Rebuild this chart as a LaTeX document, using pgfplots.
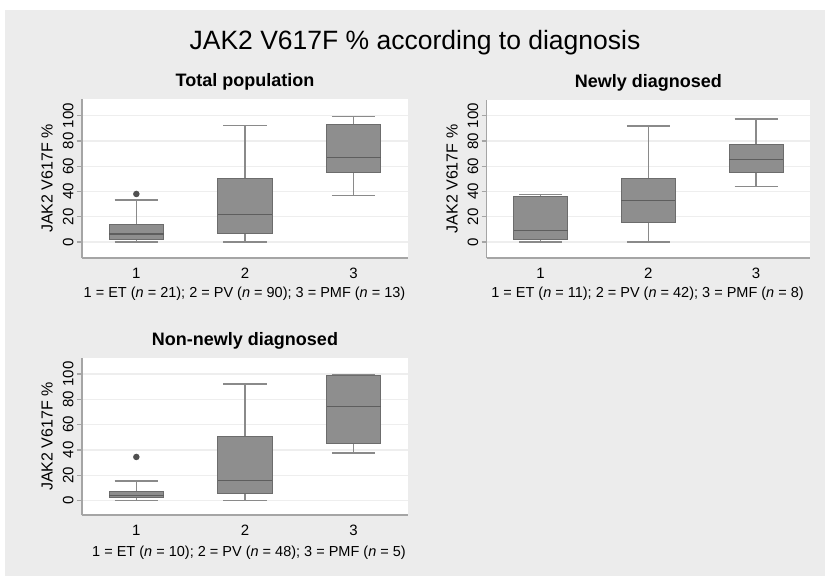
\documentclass[border=0pt]{standalone}
\usepackage{fontspec}
\setmainfont{Liberation Sans}
\usepackage{pgfplots}
\pgfplotsset{compat=1.18}
\usepgfplotslibrary{statistics}
\definecolor{bgc}{HTML}{ECECEC}
\definecolor{boxf}{HTML}{8E8E8E}
\definecolor{boxd}{HTML}{6C6C6C}
\definecolor{medc}{HTML}{5E5E5E}
\definecolor{whisk}{HTML}{8A8A8A}
\definecolor{gridc}{HTML}{EEEEEE}
\definecolor{axc}{HTML}{A5A5A5}
\definecolor{outc}{HTML}{505050}

\pgfplotsset{
  jak/.style={
    scale only axis,
    width=326pt, height=159pt,
    xmin=0.5, xmax=3.5,
    xtick={1,2,3},
    ytick={0,20,40,60,80,100},
    axis lines*=left,
    axis line style={axc, line width=1.5pt},
    axis background/.style={fill=white},
    ymajorgrids,
    major grid style={gridc, line width=1.2pt},
    tick style={axc, line width=1.2pt},
    major tick length=5pt,
    tick align=outside,
    xtick style={draw=none},
    yticklabel style={rotate=90, anchor=south, font=\fontsize{15}{15}\selectfont},
    xticklabel style={anchor=base, yshift=-15.5pt, font=\fontsize{15}{15}\selectfont},
    /pgf/number format/assume math mode=true,
    ylabel={JAK2 V617F \%},
    ylabel style={font=\fontsize{16}{16}\selectfont, at={(axis description cs:-0.107,0.5)}, anchor=center},
    title style={font=\bfseries\fontsize{18}{18}\selectfont, at={(0.5,1)}, anchor=base, yshift=6pt},
    boxplot/draw direction=y,
    boxplot/box extend=0.5,
    boxplot/every box/.style={draw=boxd, fill=boxf, line width=1pt},
    boxplot/every median/.style={draw=medc, line width=1.5pt},
    boxplot/every whisker/.style={draw=whisk, line width=1.6pt},
  },
  bx/.style={draw=whisk, line width=1.6pt, mark=*, mark size=2.4pt, mark options={fill=outc, draw=outc}},
}

\begin{document}
\begin{tikzpicture}[x=1pt,y=1pt]
\fill[white] (0,0) rectangle (830,579);
\fill[bgc] (5,3) rectangle (825,569);
\node[font=\fontsize{26.5}{26}\selectfont, anchor=base] at (415,529) {JAK2 V617F \% according to diagnosis};

% Panel 1
\begin{axis}[jak, at={(82pt,321pt)}, anchor=south west, ymin=-12.7, ymax=113.2, title={Total population}]
\addplot[bx, boxplot prepared={lower whisker=0, lower quartile=1.6, median=6.3, upper quartile=14, upper whisker=33.2, draw position=1}] coordinates {(1,38)};
\addplot[bx, boxplot prepared={lower whisker=0, lower quartile=6.9, median=21.9, upper quartile=50.4, upper whisker=92.1, draw position=2}] coordinates {};
\addplot[bx, boxplot prepared={lower whisker=36.7, lower quartile=55.2, median=66.7, upper quartile=93.2, upper whisker=99.2, draw position=3}] coordinates {};
\end{axis}

% Panel 2
\begin{axis}[jak, at={(486.7pt,321pt)}, anchor=south west, width=323.3pt, height=158pt, ymin=-12.7, ymax=112.5, title={Newly diagnosed}]
\addplot[bx, boxplot prepared={lower whisker=0, lower quartile=1.6, median=9, upper quartile=36.4, upper whisker=37.7, draw position=1}] coordinates {};
\addplot[bx, boxplot prepared={lower whisker=0, lower quartile=15.6, median=32.7, upper quartile=50.4, upper whisker=92.1, draw position=2}] coordinates {};
\addplot[bx, boxplot prepared={lower whisker=43.8, lower quartile=54.9, median=65.5, upper quartile=77.3, upper whisker=97.4, draw position=3}] coordinates {};
\end{axis}

% Panel 3
\begin{axis}[jak, at={(82pt,64pt)}, anchor=south west, height=157pt, ymin=-11.3, ymax=112.6, title={Non-newly diagnosed}]
\addplot[bx, boxplot prepared={lower whisker=0, lower quartile=2.4, median=4.2, upper quartile=7.6, upper whisker=15.3, draw position=1}] coordinates {(1,34.5)};
\addplot[bx, boxplot prepared={lower whisker=0, lower quartile=5.8, median=16.1, upper quartile=50.5, upper whisker=92.1, draw position=2}] coordinates {};
\addplot[bx, boxplot prepared={lower whisker=37.5, lower quartile=44.8, median=74.2, upper quartile=98.4, upper whisker=99.2, draw position=3}] coordinates {};
\end{axis}

\node[font=\fontsize{14.5}{15}\selectfont, anchor=base] at (244.5,281) {1 = ET (\textit{n} = 21); 2 = PV (\textit{n} = 90); 3 = PMF (\textit{n} = 13)};
\node[font=\fontsize{14.5}{15}\selectfont, anchor=base] at (647.5,281) {1 = ET (\textit{n} = 11); 2 = PV (\textit{n} = 42); 3 = PMF (\textit{n} = 8)};
\node[font=\fontsize{14.5}{15}\selectfont, anchor=base] at (249,22.3) {1 = ET (\textit{n} = 10); 2 = PV (\textit{n} = 48); 3 = PMF (\textit{n} = 5)};
\end{tikzpicture}
\end{document}
